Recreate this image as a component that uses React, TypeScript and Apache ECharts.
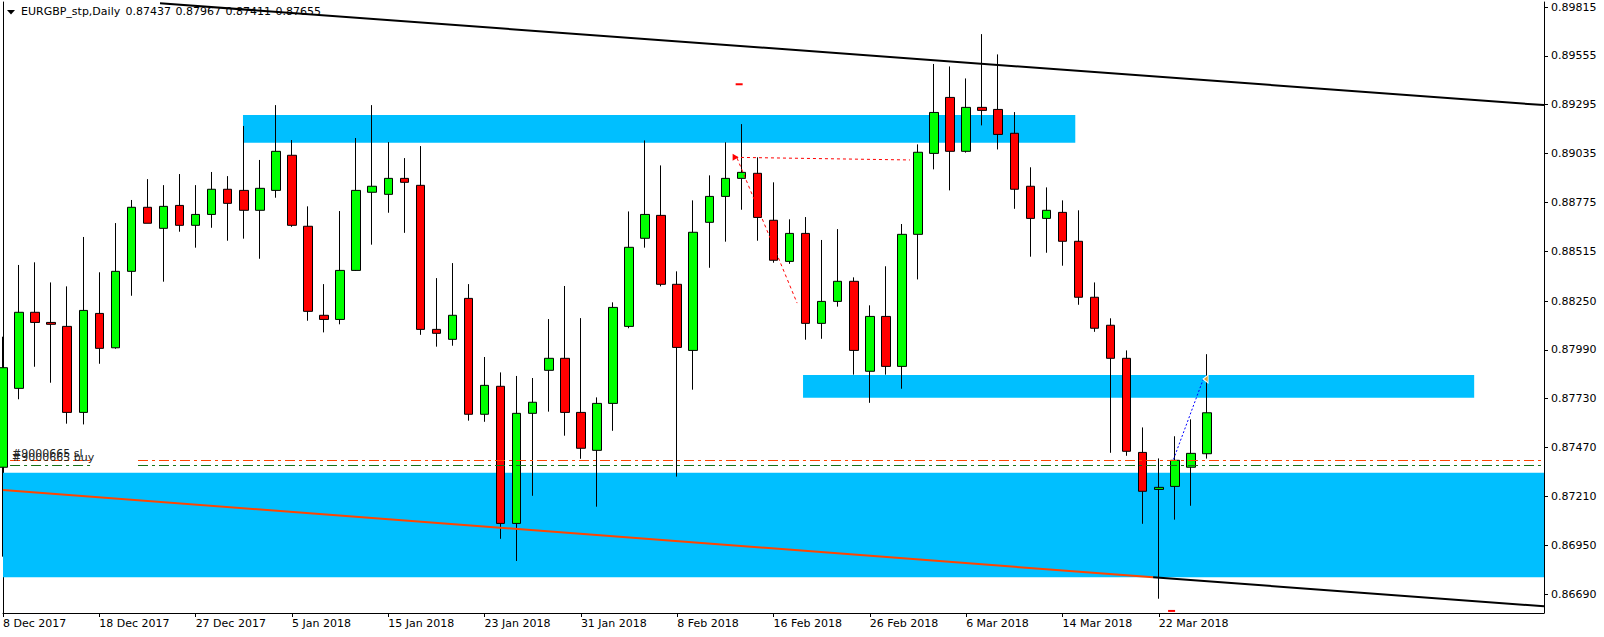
import React, { useEffect, useRef } from 'react';
import * as echarts from 'echarts';

// ---------- data ----------
const symbolTitle = 'EURGBP_stp,Daily';
const headerOHLC = ['0.87437', '0.87967', '0.87411', '0.87655'];

const dateLabels = [
  '8 Dec 2017', '18 Dec 2017', '27 Dec 2017', '5 Jan 2018', '15 Jan 2018', '23 Jan 2018',
  '31 Jan 2018', '8 Feb 2018', '16 Feb 2018', '26 Feb 2018', '6 Mar 2018', '14 Mar 2018', '22 Mar 2018',
];
const barsPerLabel = 6;
const totalSlots = 97;

const opens = [
  0.87365, 0.87785, 0.88190, 0.88136, 0.88115, 0.87657, 0.88184, 0.88001, 0.88408, 0.88749,
  0.88637, 0.88759, 0.88653, 0.88711, 0.88845, 0.88839, 0.88733, 0.88839, 0.89026, 0.88648,
  0.88174, 0.88152, 0.88413, 0.88829, 0.88818, 0.88903, 0.88866, 0.88099, 0.88046, 0.88264,
  0.87647, 0.87796, 0.87066, 0.87652, 0.87881, 0.87945, 0.87657, 0.87455, 0.87705, 0.88115,
  0.88584, 0.88706, 0.88339, 0.87987, 0.88669, 0.88807, 0.88903, 0.88930, 0.88680, 0.88461,
  0.88610, 0.88131, 0.88248, 0.88355, 0.87876, 0.88168, 0.87902, 0.88605, 0.89036, 0.89334,
  0.89047, 0.89281, 0.89270, 0.89143, 0.88861, 0.88690, 0.88722, 0.88568, 0.88270, 0.88121,
  0.87945, 0.87444, 0.87247, 0.87263, 0.87365, 0.87437,
];
const closes = [
  0.87895, 0.88190, 0.88136, 0.88126, 0.87657, 0.88200, 0.87998, 0.88408, 0.88749, 0.88664,
  0.88754, 0.88653, 0.88711, 0.88845, 0.88770, 0.88733, 0.88850, 0.89047, 0.88653, 0.88195,
  0.88152, 0.88413, 0.88839, 0.88861, 0.88903, 0.88882, 0.88099, 0.88078, 0.88174, 0.87647,
  0.87801, 0.87066, 0.87652, 0.87711, 0.87945, 0.87657, 0.87466, 0.87705, 0.88216, 0.88536,
  0.88711, 0.88339, 0.88003, 0.88616, 0.88807, 0.88903, 0.88935, 0.88695, 0.88467, 0.88610,
  0.88131, 0.88248, 0.88355, 0.87987, 0.88168, 0.87902, 0.88605, 0.89042, 0.89254, 0.89047,
  0.89281, 0.89265, 0.89137, 0.88845, 0.88690, 0.88733, 0.88568, 0.88270, 0.88105, 0.87945,
  0.87450, 0.87237, 0.87258, 0.87402, 0.87439, 0.87655,
];
const lows = [
  0.86889, 0.87727, 0.87900, 0.87815, 0.87597, 0.87593, 0.87916, 0.87996, 0.88278, 0.88664,
  0.88353, 0.88619, 0.88534, 0.88640, 0.88571, 0.88582, 0.88475, 0.88800, 0.88645, 0.88145,
  0.88083, 0.88126, 0.88410, 0.88550, 0.88720, 0.88613, 0.88070, 0.88007, 0.88012, 0.87613,
  0.87607, 0.86984, 0.86866, 0.87213, 0.87661, 0.87533, 0.87410, 0.87155, 0.87559, 0.88105,
  0.88534, 0.88328, 0.87315, 0.87778, 0.88427, 0.88566, 0.88736, 0.88571, 0.88454, 0.88448,
  0.88044, 0.88049, 0.88220, 0.87858, 0.87708, 0.87858, 0.87783, 0.88365, 0.88951, 0.88839,
  0.89040, 0.89185, 0.89057, 0.88741, 0.88486, 0.88507, 0.88438, 0.88230, 0.88086, 0.87442,
  0.87426, 0.87064, 0.86665, 0.87086, 0.87160, 0.87411,
];
const highs = [
  0.88060, 0.88442, 0.88456, 0.88349, 0.88328, 0.88591, 0.88403, 0.88665, 0.88788, 0.88899,
  0.88867, 0.88926, 0.88867, 0.88937, 0.88915, 0.89182, 0.89001, 0.89293, 0.89107, 0.88754,
  0.88340, 0.88729, 0.89118, 0.89293, 0.89096, 0.89011, 0.89075, 0.88372, 0.88452, 0.88340,
  0.87952, 0.87870, 0.87851, 0.87840, 0.88154, 0.88330, 0.88159, 0.87737, 0.88243, 0.88727,
  0.89105, 0.88972, 0.88408, 0.88786, 0.88919, 0.89095, 0.89192, 0.89015, 0.88882, 0.88685,
  0.88697, 0.88575, 0.88633, 0.88376, 0.88227, 0.88435, 0.88660, 0.89084, 0.89512, 0.89499,
  0.89435, 0.89671, 0.89563, 0.89256, 0.88962, 0.88855, 0.88786, 0.88733, 0.88349, 0.88158,
  0.87987, 0.87577, 0.87412, 0.87530, 0.87620, 0.87967,
];

const priceTicks = [
  0.89815, 0.89555, 0.89295, 0.89035, 0.88775, 0.88515, 0.8825,
  0.8799, 0.8773, 0.8747, 0.8721, 0.8695, 0.8669,
];
const yMin = 0.86589;
const yMax = 0.89842;
const lastPrice = 0.87655;

// zones: [xStart, xEnd, priceTop, priceBottom] (x in bar slots)
const zoneUpper = [14.95, 66.8, 0.8924, 0.89093];
const zoneMiddle = [49.84, 91.65, 0.87856, 0.87735];
const zoneLower = [0, 96, 0.87336, 0.86779];

// trend lines: [x0, p0, x1, p1]
const channelTop = [9.78, 0.89835, 96, 0.89293];
const supportLine = [0, 0.87244, 71.65, 0.86779];
const channelBottom = [71.65, 0.86779, 96, 0.86625];

// order levels
const slLevel = 0.874;
const buyLevel = 0.87375;
const orderLabels = ['#9000665 sl', '#9000665 buy'];
const levelSegments = [[0.44, 5.55], [8.41, 96]];

// trade history lines: [x0, p0, x1, p1]
const tradeLineA = [45.6, 0.89015, 56.5, 0.89001];
const tradeLineB = [45.73, 0.89011, 49.47, 0.88239];
const tradeLineC = [72.92, 0.87407, 74.83, 0.87847];

// markers [x, price]
const slMarks = [[45.86, 0.89404], [72.8, 0.866]];
const arrowMark = [45.64, 0.89015];
const goldMark = [74.92, 0.87835];

const FONT = 'DejaVu Sans';

export default function App() {
  const ref = useRef<HTMLDivElement>(null);

  useEffect(() => {
    if (!ref.current) return;
    const chart = echarts.init(ref.current, undefined, { renderer: 'svg' });

    const categories = Array.from({ length: totalSlots }, (_, i) => String(i));
    const labelFor = (i: number) =>
      i % barsPerLabel === 0 && i / barsPerLabel < dateLabels.length ? dateLabels[i / barsPerLabel] : '';
    const showTick = (i: number) => labelFor(i) !== '';

    const seg = (a: number[]) => [[a[0], a[1]], [a[2], a[3]]];
    const zoneArea = (z: number[]) => [{ xAxis: z[0], yAxis: z[2] }, { xAxis: z[1], yAxis: z[3] }];

    const levelLines: any[] = [];
    [slLevel, buyLevel].forEach((lvl, k) => {
      const color = k === 0 ? '#FF4500' : '#157015';
      levelSegments.forEach((s, j) => {
        levelLines.push([
          {
            coord: [s[0], lvl],
            lineStyle: { color, width: 1, type: [10, 4, 3, 4] },
            label: j === 0
              ? {
                  show: true,
                  position: 'insideStartTop',
                  formatter: orderLabels[k],
                  color: '#222',
                  fontFamily: FONT,
                  fontSize: 11,
                  distance: 2,
                }
              : { show: false },
          },
          { coord: [s[1], lvl] },
        ]);
      });
    });

    const headerStyle = { color: '#000', fontSize: 11, fontFamily: FONT, fontWeight: 'normal' };
    const titles = [
      { text: symbolTitle, left: 21, top: 6, padding: 0, textStyle: headerStyle },
      ...headerOHLC.map((t, i) => ({ text: t, left: 125.5 + i * 50, top: 6, padding: 0, textStyle: headerStyle })),
    ];

    const option: any = {
      animation: false,
      backgroundColor: '#ffffff',
      textStyle: { fontFamily: FONT },
      title: titles,
      grid: { left: 3, right: 60, top: 2, bottom: 24, show: false },
      xAxis: [
        {
          type: 'category',
          data: categories,
          boundaryGap: false,
          axisLine: { show: true, onZero: false, lineStyle: { color: '#000', width: 1 } },
          axisTick: { show: true, length: 4, interval: (i: number) => showTick(i), lineStyle: { color: '#000' } },
          axisLabel: {
            interval: (i: number) => showTick(i),
            formatter: (_v: string, i: number) => labelFor(i),
            align: 'left',
            margin: 5,
            color: '#000',
            fontSize: 11,
            fontFamily: FONT,
          },
          splitLine: { show: false },
        },
        { type: 'value', min: 0, max: totalSlots - 1, show: false },
      ],
      yAxis: [
        {
          type: 'value',
          position: 'right',
          min: yMin,
          max: yMax,
          axisLine: { show: true, onZero: false, lineStyle: { color: '#000', width: 1 } },
          axisTick: { show: true, length: 4, customValues: priceTicks, lineStyle: { color: '#000' } },
          axisLabel: {
            customValues: priceTicks,
            formatter: (v: number) => v.toFixed(5),
            margin: 7,
            color: '#000',
            fontSize: 11,
            fontFamily: FONT,
          },
          splitLine: { show: false },
        },
        {
          type: 'value',
          position: 'left',
          min: yMin,
          max: yMax,
          axisLine: { show: true, onZero: false, lineStyle: { color: '#000', width: 1 } },
          axisTick: { show: false },
          axisLabel: { show: false },
          splitLine: { show: false },
        },
      ],
      series: [
        {
          name: 'zones',
          type: 'line',
          xAxisIndex: 1,
          data: [],
          z: 1,
          markArea: {
            silent: true,
            itemStyle: { color: '#00BFFF' },
            data: [zoneArea(zoneUpper), zoneArea(zoneMiddle), zoneArea(zoneLower)],
          },
        },
        {
          name: 'EURGBP',
          type: 'candlestick',
          xAxisIndex: 0,
          z: 2,
          barWidth: 9,
          clip: true,
          data: opens.map((o, i) => [o, closes[i], lows[i], highs[i]]),
          itemStyle: {
            color: '#00FF00',
            color0: '#FF0000',
            borderColor: '#000',
            borderColor0: '#000',
            borderColorDoji: '#000',
            borderWidth: 1,
          },
          markLine: {
            silent: true,
            symbol: ['none', 'none'],
            lineStyle: { opacity: 0 },
            label: {
              show: true,
              position: 'end',
              formatter: lastPrice.toFixed(5),
              backgroundColor: '#000',
              color: '#fff',
              fontFamily: FONT,
              fontSize: 11,
              padding: [1, 5, 1, 5],
              distance: 2,
            },
            data: [{ yAxis: lastPrice }],
          },
        },
        {
          name: 'channelTop',
          type: 'line',
          xAxisIndex: 1,
          z: 3,
          symbol: 'none',
          clip: true,
          data: seg(channelTop),
          lineStyle: { color: '#000', width: 2 },
        },
        {
          name: 'support',
          type: 'line',
          xAxisIndex: 1,
          z: 3,
          symbol: 'none',
          clip: true,
          data: seg(supportLine),
          lineStyle: { color: '#FF4500', width: 2 },
        },
        {
          name: 'channelBottom',
          type: 'line',
          xAxisIndex: 1,
          z: 3,
          symbol: 'none',
          clip: true,
          data: seg(channelBottom),
          lineStyle: { color: '#000', width: 2 },
        },
        {
          name: 'tradeA',
          type: 'line',
          xAxisIndex: 1,
          z: 3,
          symbol: 'none',
          data: seg(tradeLineA),
          lineStyle: { color: '#FF0000', width: 1, type: [3, 3] },
        },
        {
          name: 'tradeB',
          type: 'line',
          xAxisIndex: 1,
          z: 3,
          symbol: 'none',
          data: seg(tradeLineB),
          lineStyle: { color: '#FF0000', width: 1, type: [3, 3] },
        },
        {
          name: 'tradeC',
          type: 'line',
          xAxisIndex: 1,
          z: 3,
          symbol: 'none',
          data: seg(tradeLineC),
          lineStyle: { color: '#0000FF', width: 1, type: [2, 2] },
        },
        {
          name: 'levels',
          type: 'line',
          xAxisIndex: 1,
          data: [],
          z: 3,
          markLine: {
            silent: true,
            symbol: ['none', 'none'],
            data: levelLines,
          },
          markPoint: {
            silent: true,
            data: [
              ...slMarks.map((m) => ({
                coord: m,
                symbol: 'rect',
                symbolSize: [7, 2],
                itemStyle: { color: '#FF0000' },
                label: { show: false },
              })),
              {
                coord: arrowMark,
                symbol: 'triangle',
                symbolSize: [7, 6],
                symbolRotate: -90,
                itemStyle: { color: '#FF0000' },
                label: { show: false },
              },
              {
                coord: goldMark,
                symbol: 'triangle',
                symbolSize: [8, 5],
                symbolRotate: 90,
                itemStyle: { color: '#E0A030', borderColor: '#fff', borderWidth: 1 },
                label: { show: false },
              },
            ],
          },
        },
      ],
      graphic: [
        {
          type: 'polygon',
          shape: { points: [[7, 10], [15, 10], [11, 14.5]] },
          style: { fill: '#000' },
          z: 1,
        },
      ],
    };

    chart.setOption(option);
    return () => chart.dispose();
  }, []);

  return (
    <div
      ref={ref}
      style={{ position: 'absolute', left: 0, top: 0, width: 1604, height: 637, background: '#fff' }}
    />
  );
}
